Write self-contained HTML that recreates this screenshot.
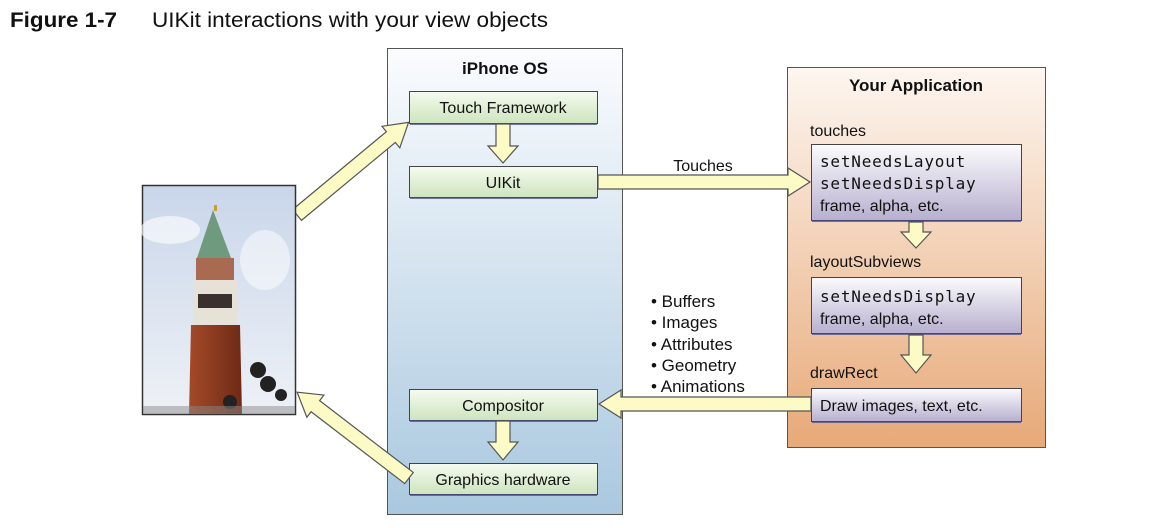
<!DOCTYPE html>
<html><head><meta charset="utf-8"><style>
html,body{margin:0;padding:0;background:#fff;width:1164px;height:528px;overflow:hidden}
svg{display:block}
text{font-family:"Liberation Sans",Arial,sans-serif;fill:#111}
.m{font-family:"DejaVu Sans Mono","Liberation Mono",monospace;letter-spacing:0.8px}
.ar{fill:#fcfbc6;stroke:#555;stroke-width:1.2}
</style></head><body>
<svg width="1164" height="528" viewBox="0 0 1164 528">
<defs>
<linearGradient id="blue" x1="0" y1="0" x2="0" y2="1"><stop offset="0" stop-color="#fbfcfe"/><stop offset="1" stop-color="#a9c8df"/></linearGradient>
<linearGradient id="org" x1="0" y1="0" x2="0" y2="1"><stop offset="0" stop-color="#fdf6f0"/><stop offset="1" stop-color="#e7a978"/></linearGradient>
<linearGradient id="grn" x1="0" y1="0" x2="0" y2="1"><stop offset="0" stop-color="#f6fbf0"/><stop offset="1" stop-color="#cde4bd"/></linearGradient>
<linearGradient id="pur" x1="0" y1="0" x2="0" y2="1"><stop offset="0" stop-color="#fbfbfd"/><stop offset="1" stop-color="#b7afcf"/></linearGradient>
<linearGradient id="sky" x1="0" y1="0" x2="0" y2="1"><stop offset="0" stop-color="#c9d6ea"/><stop offset="1" stop-color="#eef1f6"/></linearGradient>
<linearGradient id="brick" x1="0" y1="0" x2="1" y2="0"><stop offset="0" stop-color="#a54a28"/><stop offset="1" stop-color="#6e2a16"/></linearGradient>
</defs>
<text x="10" y="27" font-size="21" font-weight="bold" fill="#333" textLength="107" lengthAdjust="spacingAndGlyphs">Figure 1-7</text>
<text x="152" y="27" font-size="21" fill="#333" textLength="396" lengthAdjust="spacingAndGlyphs">UIKit interactions with your view objects</text>

<rect x="387.5" y="48.5" width="235" height="466" fill="url(#blue)" stroke="#555"/>
<text x="505" y="74" font-size="17" font-weight="bold" text-anchor="middle">iPhone OS</text>
<g stroke="#444">
<rect x="409.5" y="91.5" width="188" height="32" fill="url(#grn)"/>
<rect x="409.5" y="166.5" width="188" height="31" fill="url(#grn)"/>
<rect x="409.5" y="389.5" width="188" height="31" fill="url(#grn)"/>
<rect x="409.5" y="463.5" width="188" height="31" fill="url(#grn)"/>
</g>
<g stroke="#4a4a8a" stroke-width="1.5"><line x1="410" y1="124" x2="597" y2="124"/><line x1="410" y1="198" x2="597" y2="198"/><line x1="410" y1="421" x2="597" y2="421"/><line x1="410" y1="495" x2="597" y2="495"/></g>
<text x="503" y="113" font-size="16" text-anchor="middle">Touch Framework</text>
<text x="503" y="188" font-size="16" text-anchor="middle">UIKit</text>
<text x="503" y="411" font-size="16" text-anchor="middle">Compositor</text>
<text x="503" y="485" font-size="16" text-anchor="middle">Graphics hardware</text>

<rect x="787.5" y="67.5" width="258" height="380" fill="url(#org)" stroke="#555"/>
<text x="916" y="91" font-size="17" font-weight="bold" text-anchor="middle">Your Application</text>
<text x="810" y="136" font-size="16">touches</text>
<text x="810" y="267" font-size="16">layoutSubviews</text>
<text x="810" y="378" font-size="16">drawRect</text>
<g stroke="#444">
<rect x="811.5" y="144.5" width="210" height="76" fill="url(#pur)"/>
<rect x="811.5" y="277.5" width="210" height="56" fill="url(#pur)"/>
<rect x="811.5" y="388.5" width="210" height="33" fill="url(#pur)"/>
</g>
<g stroke="#4a4a8a" stroke-width="1.5"><line x1="812" y1="221" x2="1021" y2="221"/><line x1="812" y1="334" x2="1021" y2="334"/><line x1="812" y1="422" x2="1021" y2="422"/></g>
<text x="820" y="167" font-size="16" class="m" fill="#333">setNeedsLayout</text>
<text x="820" y="189" font-size="16" class="m" fill="#333">setNeedsDisplay</text>
<text x="820" y="211" font-size="16">frame, alpha, etc.</text>
<text x="820" y="302" font-size="16" class="m" fill="#333">setNeedsDisplay</text>
<text x="820" y="324" font-size="16">frame, alpha, etc.</text>
<text x="820" y="411" font-size="16">Draw images, text, etc.</text>

<text x="703" y="171" font-size="16" text-anchor="middle">Touches</text>
<g font-size="17">
<text x="651" y="307">• Buffers</text>
<text x="651" y="328">• Images</text>
<text x="651" y="350">• Attributes</text>
<text x="651" y="371">• Geometry</text>
<text x="651" y="392">• Animations</text>
</g>

<polygon class="ar" points="598,175 788,175 788,168 810,182 788,196 788,189 598,189"/>
<polygon class="ar" points="811,397 621,397 621,390 599,404 621,418 621,411 811,411"/>
<polygon class="ar" points="496,124 510,124 510,146 518,146 503,163 488,146 496,146"/>
<polygon class="ar" points="496,421 510,421 510,442 518,442 503,460 488,442 496,442"/>
<polygon class="ar" points="909,222 923,222 923,232 931,232 916,248 901,232 909,232"/>
<polygon class="ar" points="909,335 923,335 923,355 931,355 916,373 901,355 909,355"/>
<g transform="translate(297,215) rotate(-39.7)"><polygon class="ar" points="0,-7 122,-7 122,-14 145,0 122,14 122,7 0,7"/></g>
<g transform="translate(409,478) rotate(217.5)"><polygon class="ar" points="0,-7 118,-7 118,-14 141,0 118,14 118,7 0,7"/></g>

<rect x="142.5" y="185.5" width="153" height="229" fill="url(#sky)" stroke="#333" stroke-width="1.5"/>
<ellipse cx="170" cy="230" rx="30" ry="14" fill="#fff" opacity="0.6"/>
<ellipse cx="265" cy="260" rx="25" ry="30" fill="#fff" opacity="0.5"/>
<polygon points="213,210 197,258 231,258" fill="#6f9a7e"/>
<rect x="214" y="205" width="3" height="6" fill="#c9a030"/>
<rect x="196" y="258" width="38" height="22" fill="#a86a50"/>
<rect x="193" y="280" width="45" height="45" fill="#e6e2d8"/>
<rect x="198" y="294" width="34" height="14" fill="#3a3030"/>
<polygon points="191,325 240,325 242,414 189,414" fill="url(#brick)"/>
<g fill="#222"><circle cx="258" cy="370" r="8"/><circle cx="268" cy="384" r="8"/><circle cx="281" cy="395" r="6"/><circle cx="230" cy="402" r="7"/></g>
<rect x="143" y="406" width="152" height="8" fill="#8a8a8a" opacity="0.5"/>
</svg>
</body></html>
